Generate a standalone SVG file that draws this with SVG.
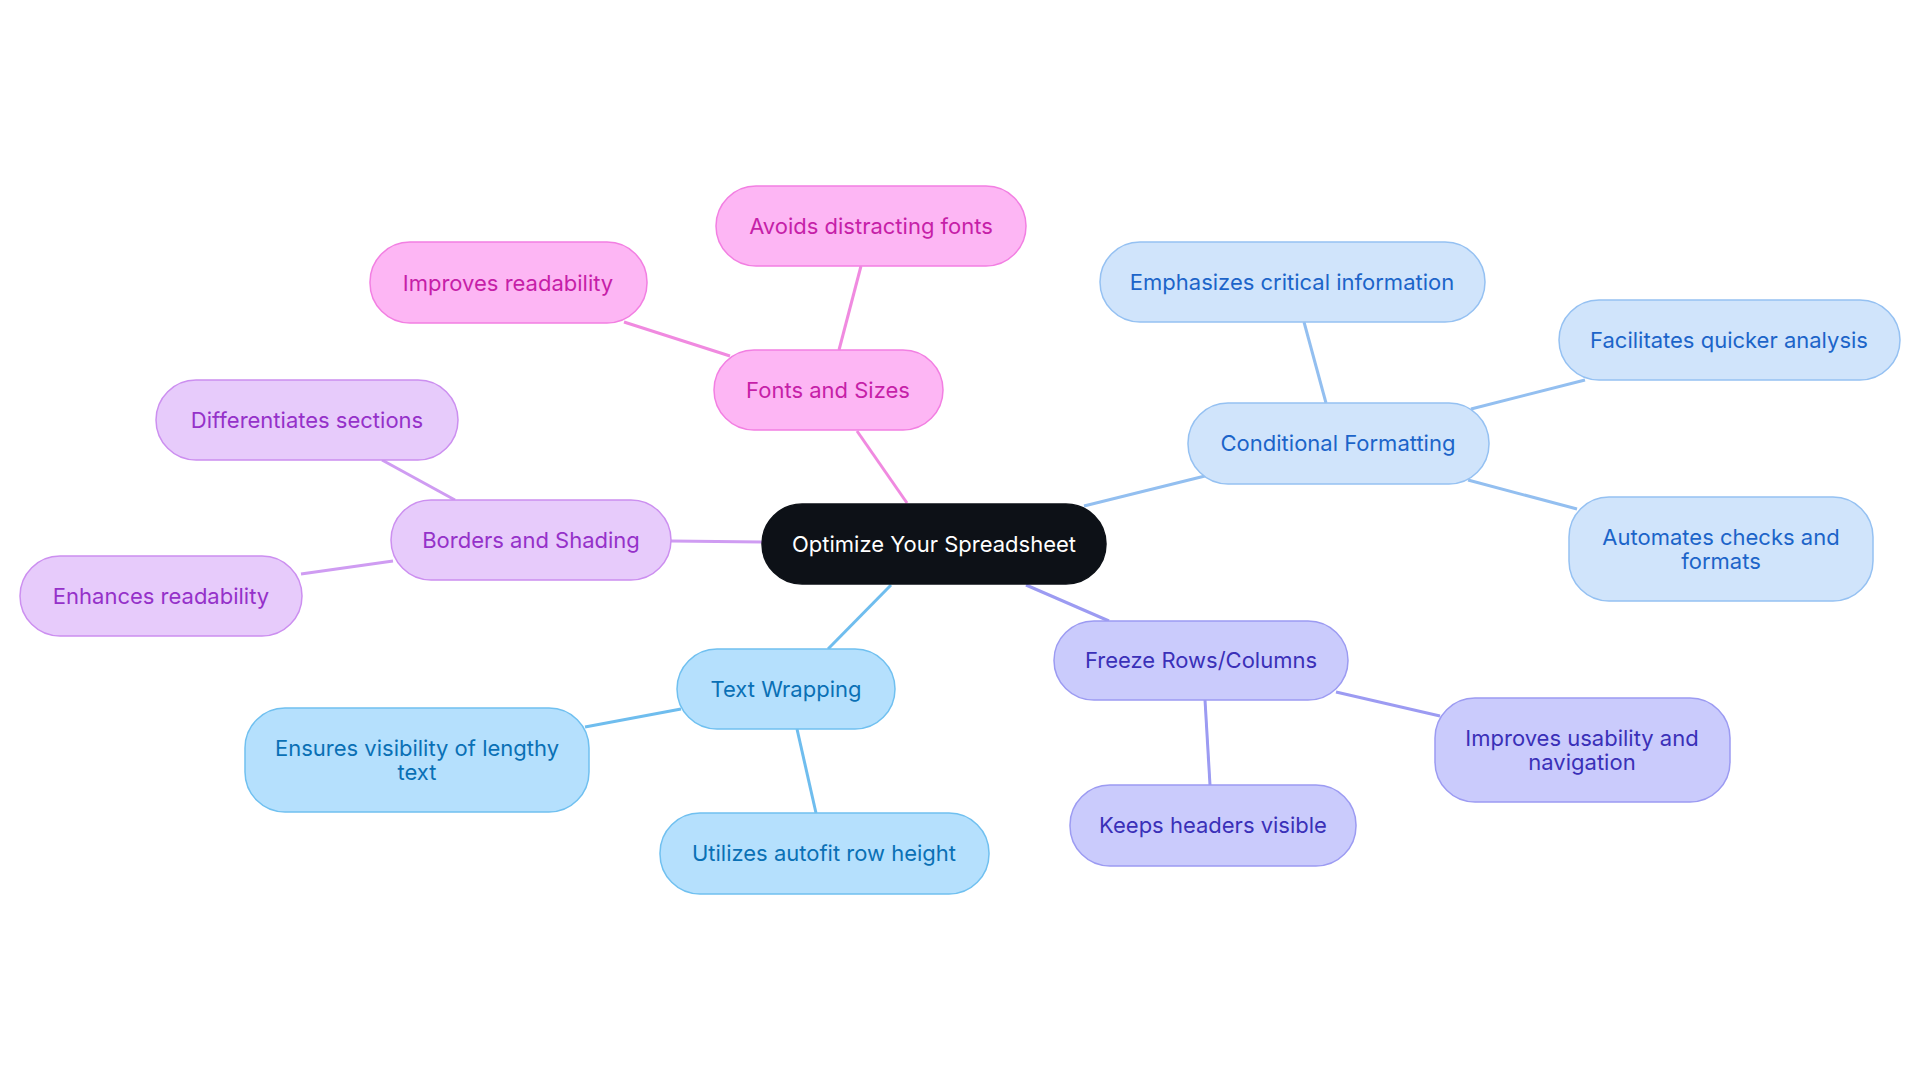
<svg xmlns="http://www.w3.org/2000/svg" width="1920" height="1083" viewBox="0 0 1920 1083">
<style>
text{font-family:Inter,"Noto Sans",sans-serif;font-size:22px;text-anchor:middle;dominant-baseline:central}
rect{stroke-width:1.5}
.c rect{fill:#0d1117;stroke:#0d1117}.c text{fill:#fff}
.pk rect{fill:#fdb6f4;stroke:#f27fe2}.pk text{fill:#c61fa8}
.pu rect{fill:#e7cbfb;stroke:#cc8ff0}.pu text{fill:#9531c9}
.lb rect{fill:#b5e0fd;stroke:#70c0f0}.lb text{fill:#0a70b5}
.pb rect{fill:#d0e4fb;stroke:#95c1f2}.pb text{fill:#1c64c9}
.in rect{fill:#cacbfc;stroke:#9c9bf2}.in text{fill:#3a30b8}
#edges line{stroke-width:3}
</style>
<g id="edges">
<line x1="907" y1="503" x2="857" y2="431" stroke="#f08ae0"/>
<line x1="839" y1="350" x2="861" y2="266" stroke="#f08ae0"/>
<line x1="730" y1="356" x2="624" y2="322" stroke="#f08ae0"/>
<line x1="762" y1="542" x2="671" y2="541" stroke="#cf9cf2"/>
<line x1="455" y1="500" x2="382" y2="460" stroke="#cf9cf2"/>
<line x1="393" y1="561" x2="301" y2="574" stroke="#cf9cf2"/>
<line x1="891" y1="585" x2="828" y2="649" stroke="#6fbdee"/>
<line x1="681" y1="709" x2="585" y2="727" stroke="#6fbdee"/>
<line x1="797" y1="729" x2="816" y2="813" stroke="#6fbdee"/>
<line x1="1026" y1="585" x2="1109" y2="621" stroke="#9c9bf2"/>
<line x1="1205" y1="700" x2="1210" y2="785" stroke="#9c9bf2"/>
<line x1="1336" y1="692" x2="1440" y2="716" stroke="#9c9bf2"/>
<line x1="1084" y1="506" x2="1205" y2="476" stroke="#93bff0"/>
<line x1="1326" y1="403" x2="1304" y2="322" stroke="#93bff0"/>
<line x1="1471" y1="409" x2="1585" y2="380" stroke="#93bff0"/>
<line x1="1468" y1="480" x2="1577" y2="509" stroke="#93bff0"/>
</g>
<g id="center" class="c"><rect x="762" y="504" width="344" height="80" rx="40"/><text x="934" y="544">Optimize Your Spreadsheet</text></g>
<g id="fonts" class="pk"><rect x="714" y="350" width="229" height="80" rx="40"/><text x="828" y="390">Fonts and Sizes</text></g>
<g id="avoids" class="pk"><rect x="716" y="186" width="310" height="80" rx="40"/><text x="871" y="226">Avoids distracting fonts</text></g>
<g id="improves1" class="pk"><rect x="370" y="242" width="277" height="81" rx="40"/><text x="508" y="283">Improves readability</text></g>
<g id="borders" class="pu"><rect x="391" y="500" width="280" height="80" rx="40"/><text x="531" y="540">Borders and Shading</text></g>
<g id="diff" class="pu"><rect x="156" y="380" width="302" height="80" rx="40"/><text x="307" y="420">Differentiates sections</text></g>
<g id="enh" class="pu"><rect x="20" y="556" width="282" height="80" rx="40"/><text x="161" y="596">Enhances readability</text></g>
<g id="wrap" class="lb"><rect x="677" y="649" width="218" height="80" rx="40"/><text x="786" y="689">Text Wrapping</text></g>
<g id="ensures" class="lb"><rect x="245" y="708" width="344" height="104" rx="40"/><text x="417" y="748">Ensures visibility of lengthy</text><text x="417" y="772">text</text></g>
<g id="autofit" class="lb"><rect x="660" y="813" width="329" height="81" rx="40"/><text x="824" y="853">Utilizes autofit row height</text></g>
<g id="freeze" class="in"><rect x="1054" y="621" width="294" height="79" rx="40"/><text x="1201" y="660">Freeze Rows/Columns</text></g>
<g id="keeps" class="in"><rect x="1070" y="785" width="286" height="81" rx="40"/><text x="1213" y="825">Keeps headers visible</text></g>
<g id="usab" class="in"><rect x="1435" y="698" width="295" height="104" rx="40"/><text x="1582" y="738">Improves usability and</text><text x="1582" y="762">navigation</text></g>
<g id="cond" class="pb"><rect x="1188" y="403" width="301" height="81" rx="40"/><text x="1338" y="443">Conditional Formatting</text></g>
<g id="emph" class="pb"><rect x="1100" y="242" width="385" height="80" rx="40"/><text x="1292" y="282">Emphasizes critical information</text></g>
<g id="facil" class="pb"><rect x="1559" y="300" width="341" height="80" rx="40"/><text x="1729" y="340">Facilitates quicker analysis</text></g>
<g id="auto" class="pb"><rect x="1569" y="497" width="304" height="104" rx="40"/><text x="1721" y="537">Automates checks and</text><text x="1721" y="561">formats</text></g>
</svg>
